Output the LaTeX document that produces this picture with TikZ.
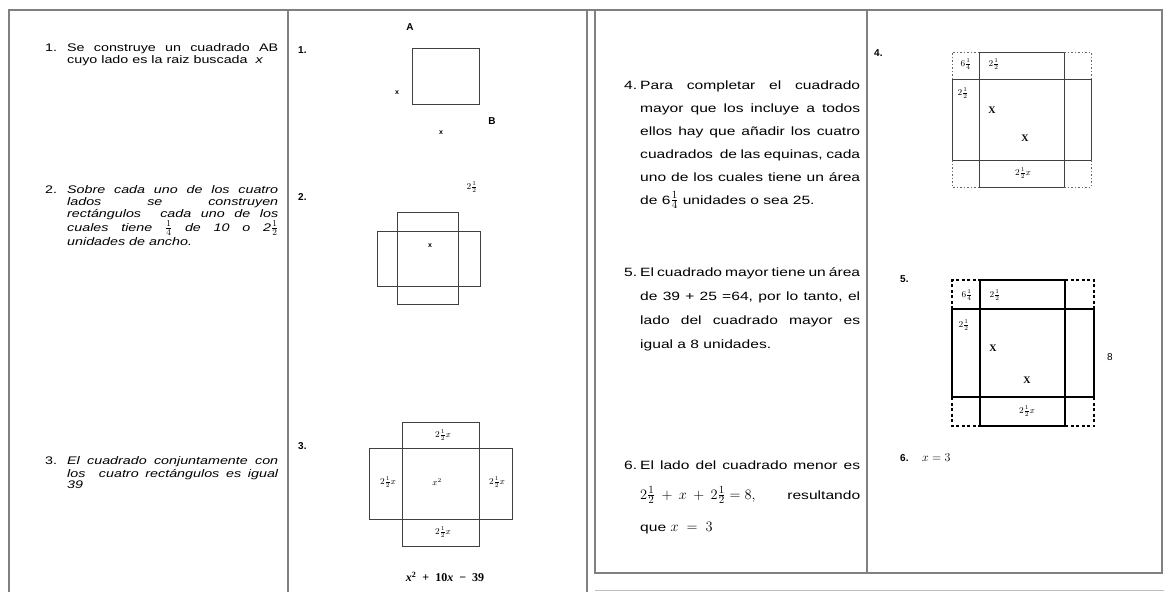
\documentclass[tikz,border=0pt]{standalone}
\usepackage{fontspec}
\setmainfont{Liberation Sans}
\newfontfamily\wf[FakeStretch=1.3]{Liberation Sans}
\newfontfamily\serf{Liberation Serif}
\newcommand{\jL}[1]{\makebox[211pt][s]{#1}}
\newcommand{\jR}[1]{\makebox[220pt][s]{#1}}
\newcommand{\mymath}[1]{{\fontsize{15}{16}\selectfont$#1$}}
\tikzset{
  frame/.style={draw=black!50, line width=1.5pt},
  fig/.style={draw=black!75, line width=0.9pt},
  figb/.style={draw=black, line width=1.6pt},
  dots/.style={draw=black!60, line width=1pt, dash pattern=on 1.5pt off 2pt},
  dotsb/.style={draw=black, line width=1.8pt, dash pattern=on 3pt off 2.5pt},
  ltxt/.style={anchor=base west, inner sep=0pt, text=black, font=\wf\fontsize{11}{12}\selectfont},
  rtxt/.style={anchor=base west, inner sep=0pt, text=black, font=\wf\fontsize{12}{14}\selectfont},
  num/.style={anchor=base west, inner sep=0pt, text=black, font=\bfseries\fontsize{10}{12}\selectfont},
  lbl/.style={inner sep=0pt, text=black, font=\fontsize{9}{10}\selectfont},
  xl/.style={inner sep=0pt, text=black, font=\bfseries\fontsize{7}{8}\selectfont},
  bx/.style={inner sep=0pt, text=black, font=\serf\bfseries\fontsize{10}{11}\selectfont},
  big/.style={inner sep=0pt, text=black, font=\bfseries\fontsize{10}{12}\selectfont}
}
\begin{document}
\begin{tikzpicture}[x=1pt,y=-1pt]
\useasboundingbox (0,0) rectangle (1164,592);
% frame
\draw[frame] (9,592) -- (9,10) -- (1162,10) -- (1162,573) -- (595,573) -- (595,10);
\draw[frame] (288,10) -- (288,592);
\draw[frame] (587,10) -- (587,592);
\draw[frame] (867,10) -- (867,573);
\draw[draw=black!25, line width=1pt] (595,590) -- (1164,590);

% left column text
\node[ltxt] (n1) at (45,51) {1.};
\node[ltxt] (t1a) at (67,51) {\jL{Se construye un cuadrado AB}};
\node[ltxt] (t1b) at (67,63) {cuyo lado es la raiz buscada \ \textit{x}};
\node[ltxt] (n2) at (45,193) {2.};
\node[ltxt] (t2a) at (67,193) {\itshape\jL{Sobre cada uno de los cuatro}};
\node[ltxt] (t2b) at (67,205) {\itshape\jL{lados se construyen}};
\node[ltxt] (t2c) at (67,217) {\itshape\jL{rectángulos \ cada uno de los}};
\node[ltxt] (t2d) at (67,231) {\itshape\jL{cuales tiene {\fontsize{13}{14}\selectfont$\frac{1}{4}$} de 10 o 2{\fontsize{13}{14}\selectfont$\frac{1}{2}$}}};
\node[ltxt] (t2e) at (67,245) {\itshape unidades de ancho.};
\node[ltxt] (n3) at (45,464) {3.};
\node[ltxt] (t3a) at (67,464) {\itshape\jL{El cuadrado conjuntamente con}};
\node[ltxt] (t3b) at (67,477) {\itshape\jL{los \ cuatro rectángulos es igual}};
\node[ltxt] (t3c) at (67,488) {\itshape 39};

% middle panel, figure 1
\node[num] (m1) at (298,53) {1.};
\node[big] (A) at (410,27) {A};
\draw[fig] (412,48) rectangle (479,104);
\node[xl] (x1a) at (397,93) {x};
\node[big] (B) at (492,121) {B};
\node[xl] (x1b) at (441,133) {x};

% figure 2
\node[num] (m2) at (298,200) {2.};
\node[lbl] (f2) at (472,187) {$2\frac{1}{2}$};
\draw[fig] (397,212) rectangle (458,304);
\draw[fig] (377,231) rectangle (480,286);
\node[xl] (x2) at (430,246) {x};

% figure 3
\node[num] (m3) at (298,449) {3.};
\draw[fig] (402,448) rectangle (479,519);
\draw[fig] (402,422) rectangle (479,448);
\draw[fig] (402,519) rectangle (479,546);
\draw[fig] (369,448) rectangle (402,519);
\draw[fig] (479,448) rectangle (512,519);
\node[lbl] (l3t) at (443,435) {$2\frac{1}{2}x$};
\node[lbl] (l3l) at (388,482) {$2\frac{1}{2}x$};
\node[lbl] (l3r) at (497,482) {$2\frac{1}{2}x$};
\node[lbl] (l3b) at (443,532) {$2\frac{1}{2}x$};
\node[lbl] (l3c) at (437,482) {$x^2$};
\node[inner sep=0pt, text=black, font=\serf\bfseries\fontsize{12}{14}\selectfont] (eq) at (445,577) {\textit{x}\textsuperscript{2} \ + \ 10\textit{x} \ − \ 39};

% right text column
\node[rtxt] (n4) at (624,89) {4.};
\node[rtxt] (t4a) at (640,89) {\jR{Para completar el cuadrado}};
\node[rtxt] (t4b) at (640,112) {\jR{mayor que los incluye a todos}};
\node[rtxt] (t4c) at (640,135) {\jR{ellos hay que añadir los cuatro}};
\node[rtxt] (t4d) at (640,158) {\jR{cuadrados \ de las equinas, cada}};
\node[rtxt] (t4e) at (640,181) {\jR{uno de los cuales tiene un área}};
\node[rtxt] (t4f) at (640,204) {de 6\mymath{\frac{1}{4}} unidades o sea 25.};
\node[rtxt] (n5) at (624,276) {5.};
\node[rtxt] (t5a) at (640,276) {\jR{El cuadrado mayor tiene un área}};
\node[rtxt] (t5b) at (640,300) {\jR{de 39 + 25 =64, por lo tanto, el}};
\node[rtxt] (t5c) at (640,324) {\jR{lado del cuadrado mayor es}};
\node[rtxt] (t5d) at (640,348) {igual a 8 unidades.};
\node[rtxt] (n6) at (624,469) {6.};
\node[rtxt] (t6a) at (640,469) {\jR{El lado del cuadrado menor es}};
\node[rtxt] (t6b) at (640,499) {\makebox[220pt][l]{\mymath{2\frac{1}{2}\:+\:x\:+\:2\frac{1}{2}=8,}\hfill resultando}};
\node[rtxt] (t6c) at (640,531) {que \mymath{x\;=\;3}};

% figure 4
\node[num] (m4) at (874,56) {4.};
\draw[fig] (979,52) rectangle (1064,187);
\draw[fig] (952,79) rectangle (1091,160);
\draw[dots] (952,79) -- (952,52) -- (979,52);
\draw[dots] (1064,52) -- (1091,52) -- (1091,79);
\draw[dots] (952,160) -- (952,187) -- (979,187);
\draw[dots] (1064,187) -- (1091,187) -- (1091,160);
\node[lbl] (l4a) at (966,64) {$6\frac{1}{4}$};
\node[lbl] (l4b) at (994,64) {$2\frac{1}{2}$};
\node[lbl] (l4c) at (963,93) {$2\frac{1}{2}$};
\node[bx] (l4d) at (992,110) {X};
\node[bx] (l4e) at (1025,138) {X};
\node[lbl] (l4f) at (1023,173) {$2\frac{1}{2}x$};

% figure 5
\node[num] (m5) at (900,282) {5.};
\draw[figb] (980,280) rectangle (1065,426);
\draw[figb] (952,309) rectangle (1094,397);
\draw[dotsb] (952,309) -- (952,280) -- (980,280);
\draw[dotsb] (1065,280) -- (1094,280) -- (1094,309);
\draw[dotsb] (952,397) -- (952,426) -- (980,426);
\draw[dotsb] (1065,426) -- (1094,426) -- (1094,397);
\node[lbl] (l5a) at (967,295) {$6\frac{1}{4}$};
\node[lbl] (l5b) at (995,295) {$2\frac{1}{2}$};
\node[lbl] (l5c) at (964,325) {$2\frac{1}{2}$};
\node[bx] (l5d) at (993,348) {X};
\node[bx] (l5e) at (1027,380) {X};
\node[lbl] (l5f) at (1027,411) {$2\frac{1}{2}x$};
\node[inner sep=0pt, text=black, font=\fontsize{10}{12}\selectfont] (e8) at (1110,357) {8};
\node[num] (m6) at (900,461) {6.};
\node[inner sep=0pt, anchor=base west, text=black, font=\fontsize{13}{14}\selectfont] (x3) at (922,461) {$x=3$};
\end{tikzpicture}
\end{document}
